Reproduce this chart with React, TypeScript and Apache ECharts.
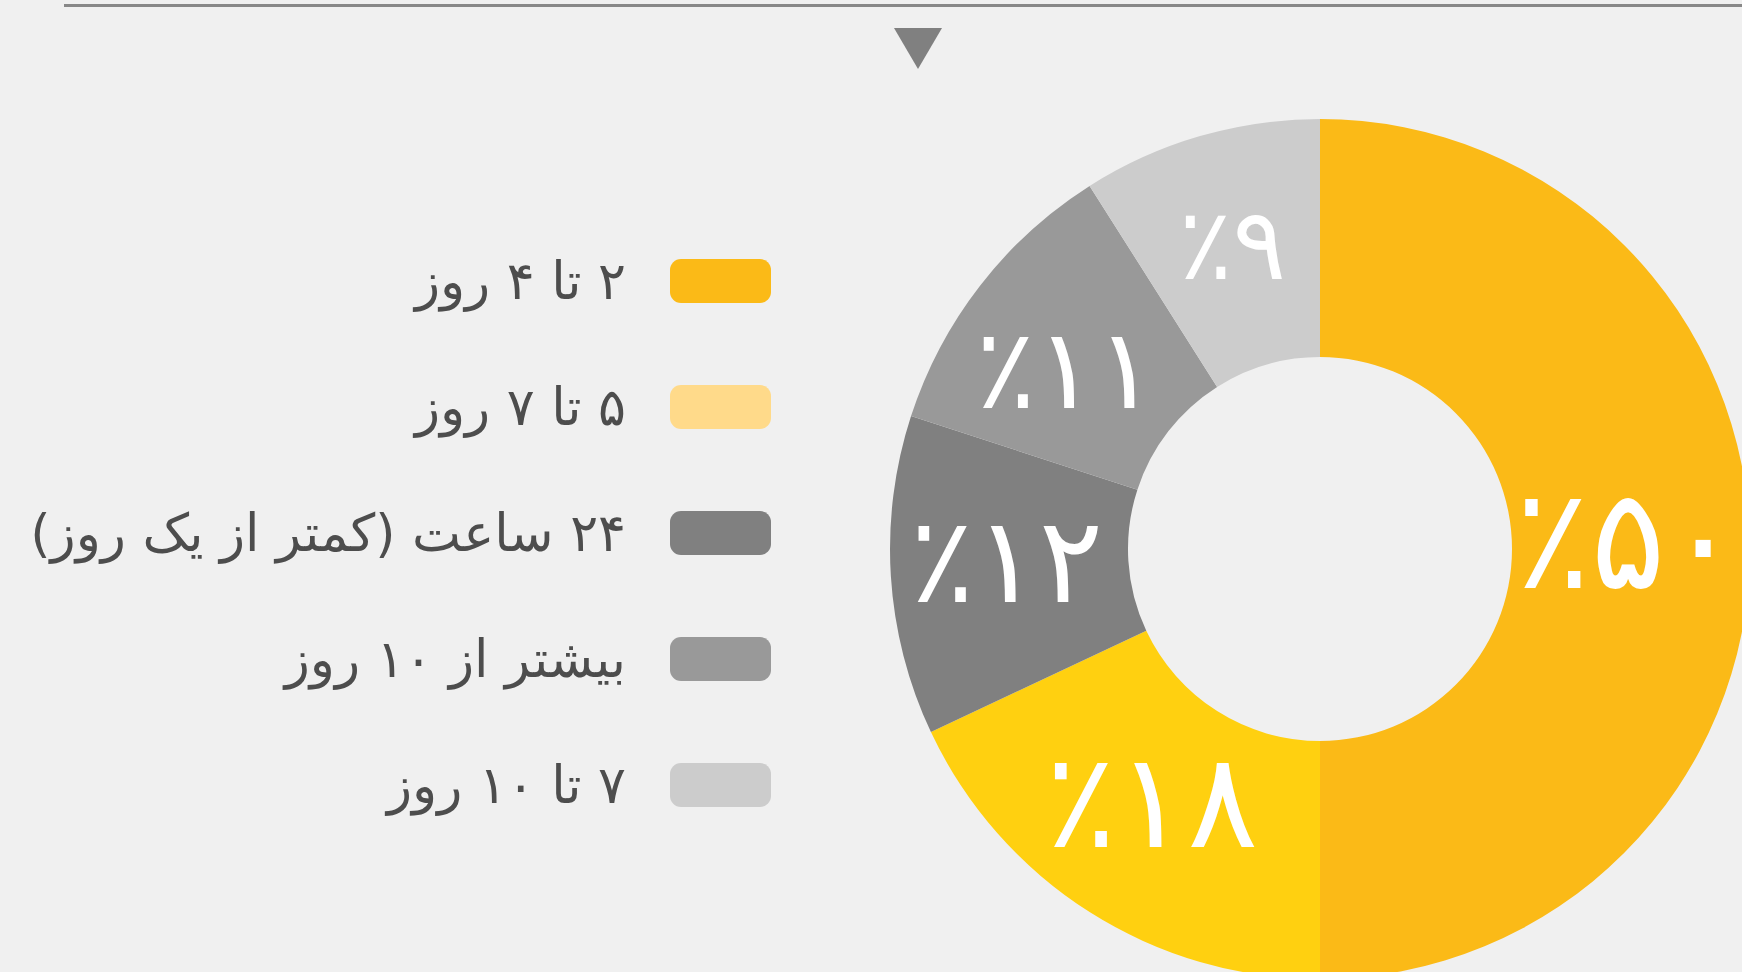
import React, { useEffect, useRef } from "react";
import * as echarts from "echarts";

const categories = [
  "۲ تا ۴ روز",
  "۵ تا ۷ روز",
  "۲۴ ساعت (کمتر از یک روز)",
  "بیشتر از ۱۰ روز",
  "۷ تا ۱۰ روز",
];
const values = [50, 18, 12, 11, 9];
const sliceColors = ["#FBBA17", "#FFD010", "#808080", "#999999", "#CCCCCC"];
const legendColors = ["#FBBA17", "#FFDA8A", "#808080", "#999999", "#CCCCCC"];

// label styling per slice (font size and fine offset)
const labelStyle = [
  { fontSize: 140, offset: [-6, -10] },
  { fontSize: 132, offset: [0, -13] },
  { fontSize: 120, offset: [0, -8] },
  { fontSize: 112, offset: [-6, 12] },
  { fontSize: 100, offset: [0, -3] },
];

const persianDigits = "۰۱۲۳۴۵۶۷۸۹";
const toPersian = (n: number) =>
  String(n)
    .split("")
    .map((c) => persianDigits[Number(c)])
    .join("");

export default function App() {
  const ref = useRef<HTMLDivElement>(null);
  useEffect(() => {
    if (!ref.current) return;
    const chart = echarts.init(ref.current, null, { renderer: "svg" });
    chart.setOption({
      animation: false,
      backgroundColor: "#F0F0F0",
      legend: {
        orient: "vertical",
        right: 1742 - 771,
        top: 255,
        padding: 0,
        itemWidth: 101,
        itemHeight: 44,
        itemGap: 74,
        align: "right",
        icon: "roundRect",
        selectedMode: false,
        data: categories.map((name, i) => ({
          name,
          itemStyle: { color: legendColors[i] },
        })),
        formatter: (name: string) => "\u202B" + name + "\u202C",
        textStyle: {
          fontFamily: "DejaVu Sans",
          fontSize: 52,
          color: "#4D4D4D",
          padding: [0, 39, 0, 0],
        },
      },
      graphic: [
        {
          type: "line",
          shape: { x1: 64, y1: 5.5, x2: 1742, y2: 5.5 },
          style: { stroke: "#888888", lineWidth: 3 },
        },
        {
          type: "polygon",
          shape: {
            points: [
              [894, 28],
              [942, 28],
              [918, 69],
            ],
          },
          style: { fill: "#808080" },
        },
      ],
      series: [
        {
          type: "pie",
          center: [1320, 549],
          radius: [192, 430],
          startAngle: 90,
          clockwise: true,
          avoidLabelOverlap: false,
          emphasis: { disabled: true },
          label: {
            show: true,
            position: "inside",
            color: "#FFFFFF",
            fontFamily: "DejaVu Sans",
            fontWeight: "normal",
            formatter: (p: any) => "٪" + toPersian(p.value),
          },
          labelLine: { show: false },
          data: categories.map((name, i) => ({
            name,
            value: values[i],
            itemStyle: { color: sliceColors[i] },
            label: labelStyle[i],
          })),
        },
      ],
    });
    return () => chart.dispose();
  }, []);
  return (
    <div
      ref={ref}
      style={{ position: "fixed", left: 0, top: 0, width: 1742, height: 972 }}
    />
  );
}
